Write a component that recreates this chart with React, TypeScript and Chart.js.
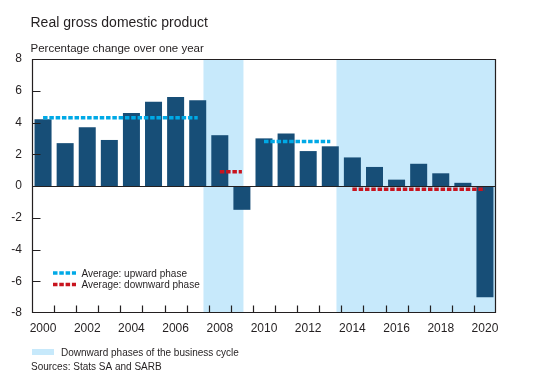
import React, { useEffect, useRef } from "react";
import { Chart, registerables } from "chart.js";

Chart.register(...registerables);

const years = [
  "2000", "2001", "2002", "2003", "2004", "2005", "2006", "2007", "2008", "2009", "2010",
  "2011", "2012", "2013", "2014", "2015", "2016", "2017", "2018", "2019", "2020",
];
const gdpGrowth = [4.2, 2.7, 3.7, 2.9, 4.6, 5.3, 5.6, 5.4, 3.2, -1.5, 3.0, 3.3, 2.2, 2.5, 1.8, 1.2, 0.4, 1.4, 0.8, 0.2, -7.0];
const upwardAverage = [4.3, 4.3, 4.3, 4.3, 4.3, 4.3, 4.3, 4.3, null, null, 2.8, 2.8, 2.8, 2.8, null, null, null, null, null, null, null];
const downwardAverage = [null, null, null, null, null, null, null, null, 0.9, 0.9, null, null, null, null, -0.2, -0.2, -0.2, -0.2, -0.2, -0.2, -0.2];
// downward phases of the business cycle, in decimal years
const downwardPhaseStarts = [2007.76, 2013.78];
const downwardPhaseEnds = [2009.57, 2021.0];
const yMin = -8;
const yMax = 8;
const yStep = 2;

const title = "Real gross domestic product";
const subtitle = "Percentage change over one year";
const shadeLabel = "Downward phases of the business cycle";
const sourceText = "Sources: Stats SA and SARB";

const FONT = "'Liberation Sans', Arial, Helvetica, sans-serif";
const DARK = "#231f20";
const BAR = "#174e77";
const SHADE = "#c7e9fb";
const UP = "#00a9e6";
const DOWN = "#c8141e";
const DASH = [4.5, 1.8];

const yearToIndex = (y: number) => y - Number(years[0]) - 0.5;

const shadePlugin = {
  id: "shade",
  beforeDatasetsDraw(chart: any) {
    const { ctx, chartArea } = chart;
    const x = chart.scales.x;
    ctx.save();
    ctx.fillStyle = SHADE;
    downwardPhaseStarts.forEach((s, i) => {
      const x0 = Math.max(chartArea.left, x.getPixelForValue(yearToIndex(s)));
      const x1 = Math.min(chartArea.right, x.getPixelForValue(yearToIndex(downwardPhaseEnds[i])));
      ctx.fillRect(x0, chartArea.top, x1 - x0, chartArea.bottom - chartArea.top);
    });
    ctx.restore();
  },
};

const framePlugin = {
  id: "frame",
  afterDatasetsDraw(chart: any) {
    const { ctx, chartArea } = chart;
    const x = chart.scales.x;
    const y = chart.scales.y;
    const L = Math.round(chartArea.left) + 0.5;
    const R = Math.round(chartArea.right) - 0.5;
    const T = Math.round(chartArea.top) + 0.5;
    const B = Math.round(chartArea.bottom) - 0.5;
    ctx.save();
    ctx.strokeStyle = DARK;
    ctx.lineWidth = 1.2;
    ctx.beginPath();
    ctx.moveTo(L, T);
    ctx.lineTo(R, T);
    ctx.lineTo(R, B);
    ctx.lineTo(L, B);
    ctx.closePath();
    const z = Math.round(y.getPixelForValue(0)) + 0.5;
    ctx.moveTo(L, z);
    ctx.lineTo(R, z);
    for (let v = yMin + yStep; v < yMax; v += yStep) {
      if (v === 0) continue;
      const py = Math.round(y.getPixelForValue(v)) + 0.5;
      ctx.moveTo(L, py);
      ctx.lineTo(L + 8, py);
    }
    for (let k = 1; k < years.length; k++) {
      const px = Math.round(x.getPixelForValue(k - 0.5)) + 0.5;
      ctx.moveTo(px, B);
      ctx.lineTo(px, B - 7);
    }
    ctx.stroke();
    ctx.restore();
  },
};

const textPlugin = {
  id: "texts",
  afterDraw(chart: any) {
    const { ctx } = chart;
    ctx.save();
    ctx.fillStyle = DARK;
    ctx.textBaseline = "alphabetic";
    ctx.textAlign = "left";
    ctx.font = `14px ${FONT}`;
    ctx.fillText(title, 30.5, 26.5);
    ctx.font = `11.5px ${FONT}`;
    ctx.fillText(subtitle, 30.5, 52);

    const items = [
      { label: chart.data.datasets[1].label, color: UP, y: 273 },
      { label: chart.data.datasets[2].label, color: DOWN, y: 284.5 },
    ];
    items.forEach((it) => {
      ctx.save();
      ctx.strokeStyle = it.color;
      ctx.lineWidth = 3.5;
      ctx.setLineDash(DASH);
      ctx.beginPath();
      ctx.moveTo(53, it.y);
      ctx.lineTo(76, it.y);
      ctx.stroke();
      ctx.restore();
      ctx.font = `10px ${FONT}`;
      ctx.fillStyle = DARK;
      ctx.fillText(it.label, 81.5, it.y + 3.5);
    });

    ctx.fillStyle = SHADE;
    ctx.fillRect(32, 349, 22, 6);
    ctx.fillStyle = DARK;
    ctx.font = `10px ${FONT}`;
    ctx.fillText(shadeLabel, 61, 355.5);
    ctx.fillText(sourceText, 31, 370);
    ctx.restore();
  },
};

export default function App() {
  const ref = useRef<HTMLCanvasElement | null>(null);
  useEffect(() => {
    if (!ref.current) return;
    const chart = new Chart(ref.current, {
      type: "bar",
      data: {
        labels: years,
        datasets: [
          {
            type: "bar",
            label: "Real GDP",
            data: gdpGrowth,
            backgroundColor: BAR,
            borderWidth: 0,
            barPercentage: 0.77,
            categoryPercentage: 1,
            order: 3,
          },
          {
            type: "line",
            label: "Average: upward phase",
            data: upwardAverage as any,
            borderColor: UP,
            borderWidth: 3.5,
            borderDash: DASH,
            borderCapStyle: "butt",
            pointRadius: 0,
            spanGaps: false,
            fill: false,
            order: 1,
          },
          {
            type: "line",
            label: "Average: downward phase",
            data: downwardAverage as any,
            borderColor: DOWN,
            borderWidth: 3.5,
            borderDash: DASH,
            borderCapStyle: "butt",
            pointRadius: 0,
            spanGaps: false,
            fill: false,
            order: 1,
          },
        ],
      },
      options: {
        responsive: false,
        animation: false,
        devicePixelRatio: 1,
        layout: { padding: { left: 0, top: 59, right: 39, bottom: 0 } },
        plugins: {
          legend: { display: false },
          title: { display: false },
          tooltip: { enabled: false },
        },
        scales: {
          x: {
            type: "category",
            offset: true,
            grid: { display: false, drawTicks: false },
            border: { display: false },
            ticks: {
              autoSkip: false,
              maxRotation: 0,
              minRotation: 0,
              padding: 8,
              color: DARK,
              font: { family: FONT, size: 12 },
              callback: (_v: any, i: number) => (i % 2 === 0 ? years[i] : ""),
            },
            afterFit: (s: any) => {
              s.height = 68;
            },
          },
          y: {
            min: yMin,
            max: yMax,
            grid: { display: false, drawTicks: false },
            border: { display: false },
            ticks: {
              stepSize: yStep,
              padding: 10,
              color: DARK,
              font: { family: FONT, size: 12 },
            },
            afterFit: (s: any) => {
              s.width = 32;
            },
          },
        },
      },
      plugins: [shadePlugin, framePlugin, textPlugin],
    });
    return () => chart.destroy();
  }, []);
  return (
    <div style={{ position: "absolute", left: 0, top: 0, width: 535, height: 381, background: "#fff" }}>
      <canvas ref={ref} width={535} height={381} />
    </div>
  );
}
